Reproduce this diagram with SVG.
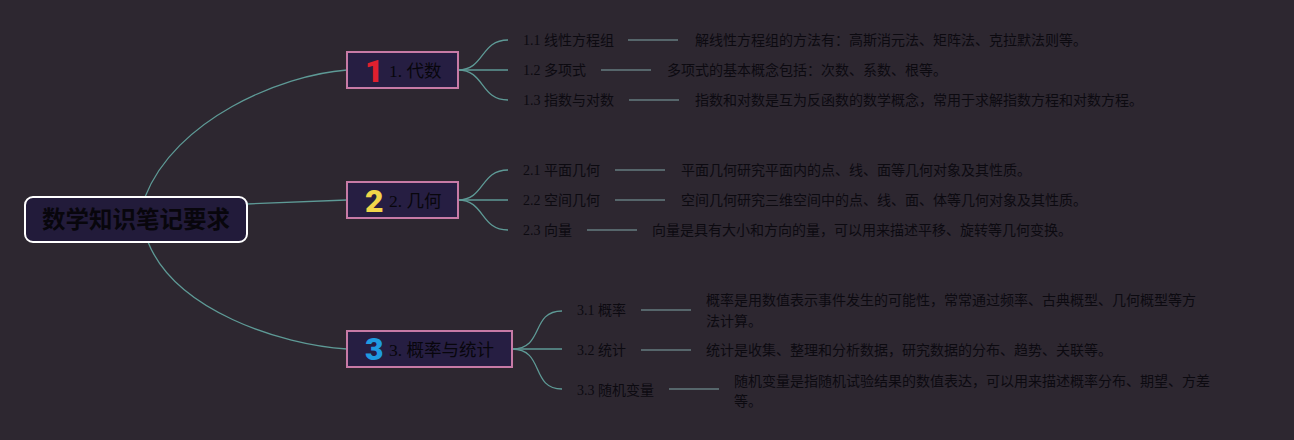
<svg xmlns="http://www.w3.org/2000/svg" width="1294" height="440" viewBox="0 0 1294 440">
<style>
.bg{fill:#2d2730}
.conn{fill:none;stroke:#5e9a96;stroke-width:1.3}
.tail{fill:none;stroke:#56666b;stroke-width:2}
.root{fill:#221b3a;stroke:#ffffff;stroke-width:2}
.br{fill:#261e42;stroke:#c77aa6;stroke-width:2}
.rt{font-family:"Noto Sans CJK SC",sans-serif;font-weight:bold;font-size:23.5px;fill:#08060c}
.bt{font-family:"Liberation Serif","Noto Sans CJK SC",serif;font-size:17.5px;fill:#08060c}
.num{font-family:Roboto,"Liberation Sans",sans-serif;font-weight:900;font-size:32px}
.st{font-family:"Liberation Serif","Noto Sans CJK SC",serif;font-size:14px;fill:#0c0a10}
.dt{font-family:"Liberation Sans","Noto Sans CJK SC",sans-serif;font-size:14px;fill:#0c0a10}
</style>
<rect class="bg" x="0" y="0" width="1294" height="440"/>
<g id="connectors">
<path class="conn" d="M145,197 C175,120 280,75 347,70"/>
<path class="conn" d="M247,204 L347,200"/>
<path class="conn" d="M148,242 C175,310 280,345 347,349"/>
<path class="conn" d="M458,70 C485,70 480,40 508,40"/>
<path class="conn" d="M458,70 L508,70"/>
<path class="conn" d="M458,70 C485,70 480,100 508,100"/>
<path class="conn" d="M458,200 C485,200 480,170 508,170"/>
<path class="conn" d="M458,200 L508,200"/>
<path class="conn" d="M458,200 C485,200 480,230 508,230"/>
<path class="conn" d="M512,349 C545,349 530,311 562,311"/>
<path class="conn" d="M512,349 L562,349"/>
<path class="conn" d="M512,349 C545,349 530,389 562,389"/>
<path class="tail" d="M628,40 H678 M601,70 H651 M629,100 H679 M615,170 H665 M615,200 H665 M587,230 H637 M641,310 H691 M641,350 H691 M669,389 H719"/>
</g>
<g id="root">
<rect class="root" x="25" y="197" width="222" height="45" rx="8"/>
<text class="rt" x="136" y="228" text-anchor="middle">数学知识笔记要求</text>
</g>
<g id="b1">
<rect class="br" x="347" y="52" width="111" height="36"/>
<text class="num" x="365" y="82" fill="#e0202e">1</text>
<text class="bt" x="389" y="77">1. 代数</text>
</g>
<g id="b2">
<rect class="br" x="347" y="182" width="111" height="36"/>
<text class="num" x="365" y="212" fill="#f0d64a">2</text>
<text class="bt" x="389" y="207">2. 几何</text>
</g>
<g id="b3">
<rect class="br" x="347" y="331" width="165" height="36"/>
<text class="num" x="365" y="360" fill="#1f9ae0">3</text>
<text class="bt" x="389" y="356">3. 概率与统计</text>
</g>
<g id="s11"><text class="st" x="523" y="45">1.1 线性方程组</text><text class="dt" x="695" y="45">解线性方程组的方法有：高斯消元法、矩阵法、克拉默法则等。</text></g>
<g id="s12"><text class="st" x="523" y="75">1.2 多项式</text><text class="dt" x="667" y="75">多项式的基本概念包括：次数、系数、根等。</text></g>
<g id="s13"><text class="st" x="523" y="105">1.3 指数与对数</text><text class="dt" x="695" y="105">指数和对数是互为反函数的数学概念，常用于求解指数方程和对数方程。</text></g>
<g id="s21"><text class="st" x="523" y="175">2.1 平面几何</text><text class="dt" x="681" y="175">平面几何研究平面内的点、线、面等几何对象及其性质。</text></g>
<g id="s22"><text class="st" x="523" y="205">2.2 空间几何</text><text class="dt" x="681" y="205">空间几何研究三维空间中的点、线、面、体等几何对象及其性质。</text></g>
<g id="s23"><text class="st" x="523" y="235">2.3 向量</text><text class="dt" x="652" y="235">向量是具有大小和方向的量，可以用来描述平移、旋转等几何变换。</text></g>
<g id="s31"><text class="st" x="577" y="315">3.1 概率</text><text class="dt" x="706" y="305">概率是用数值表示事件发生的可能性，常常通过频率、古典概型、几何概型等方</text><text class="dt" x="706" y="326">法计算。</text></g>
<g id="s32"><text class="st" x="577" y="355">3.2 统计</text><text class="dt" x="706" y="355">统计是收集、整理和分析数据，研究数据的分布、趋势、关联等。</text></g>
<g id="s33"><text class="st" x="577" y="395">3.3 随机变量</text><text class="dt" x="734" y="386">随机变量是指随机试验结果的数值表达，可以用来描述概率分布、期望、方差</text><text class="dt" x="734" y="406">等。</text></g>
</svg>
